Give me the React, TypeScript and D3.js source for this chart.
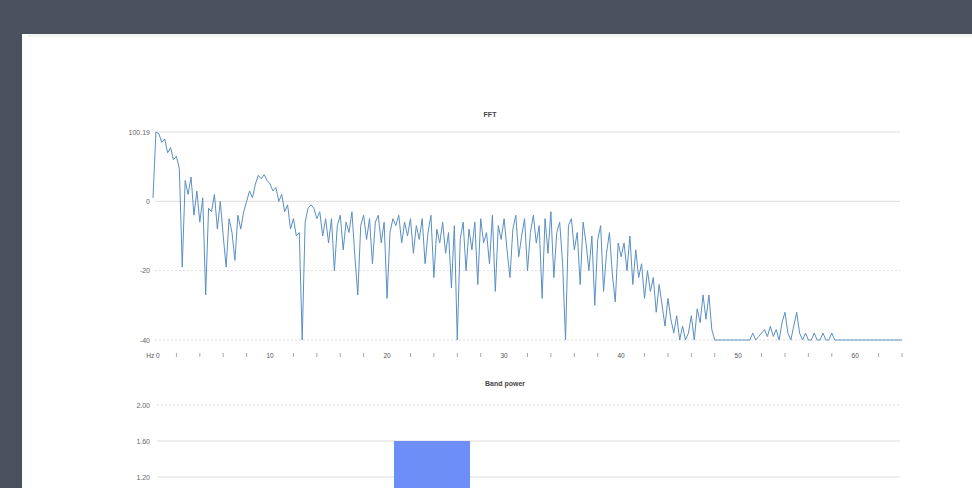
import React from "react";
import * as d3 from "d3";

// FFT spectrum, 0.25 Hz resolution, dB values
const fftFreqStep = 0.25;
const fftValues: number[] = [
  1, 20, 19.5, 17, 18, 14, 15.5, 12, 13, 9.5,
  -19, 6, 2, 7, -4, 3, -6, 1, -27, -2,
  -3, 2, -8, 0, -10, -19, -5, -9, -17, -4,
  -8, -3, 0, 3, 1, 5, 7.5, 6.5, 7.7, 6,
  5, 3, 4, 0, 2, -3, -1, -8, -5, -10,
  -9, -40, -6, -2, -1, -2, -5, -3, -10, -5,
  -12, -5, -20, -7, -4, -14, -6, -9, -3, -16,
  -27, -7, -4, -11, -5, -18, -6, -4, -12, -6,
  -28, -9, -5, -7, -4, -12, -6, -10, -5, -15,
  -7, -11, -5, -18, -9, -4, -22, -8, -12, -6,
  -15, -9, -25, -7, -40, -11, -6, -20, -8, -14,
  -6, -24, -5, -12, -9, -18, -4, -26, -7, -11,
  -5, -14, -22, -8, -4, -16, -10, -5, -20, -9,
  -4, -12, -7, -28, -5, -15, -3, -22, -9, -6,
  -18, -40, -7, -5, -14, -9, -24, -6, -12, -20,
  -10, -30, -11, -7, -26, -15, -9, -21, -29, -12,
  -16, -12, -20, -10, -24, -14, -22, -18, -28, -20,
  -26, -22, -32, -24, -30, -36, -28, -34, -38, -33,
  -40, -36, -40, -38, -33, -40, -31, -35, -27, -34,
  -27, -37, -40, -40, -40, -40, -40, -40, -40, -40,
  -40, -40, -40, -40, -40, -38, -40, -39, -38, -37,
  -39, -36, -39, -37, -40, -35, -32, -38, -40, -36,
  -32, -38, -40, -38, -40, -40, -38, -40, -40, -38,
  -40, -40, -38, -40, -40, -40, -40, -40, -40, -40,
  -40, -40, -40, -40, -40, -40, -40, -40, -40, -40,
  -40, -40, -40, -40, -40, -40, -40,
];
const fftYTicks = [20, 0, -20, -40];
const fftYTickLabels = ["100.19", "0", "-20", "-40"];
const fftXMajorTicks = [0, 10, 20, 30, 40, 50, 60];
const fftXMajorLabels = ["Hz 0", "10", "20", "30", "40", "50", "60"];
const fftXMinorTicks = d3.range(0, 65, 2).filter((v) => v % 10 !== 0);

// Band power
const bandNames = ["delta", "theta", "alpha", "beta"];
const bandValues = [0.95, 1.6, 0.85, 0.7];
const bandYTicks = [2.0, 1.6, 1.2];
const bandYTickLabels = ["2.00", "1.60", "1.20"];

const W = 972;
const H = 488;
const FONT = "'Liberation Sans', Arial, sans-serif";

export default function App() {
  const fx = d3.scaleLinear().domain([0, 64]).range([153, 902]);
  const fy = d3.scaleLinear().domain([-40, 20]).range([340, 132]);
  const line = d3
    .line<number>()
    .x((_, i) => fx(i * fftFreqStep))
    .y((d) => fy(d));

  const bx = d3
    .scaleBand<string>()
    .domain(bandNames)
    .range([157, 900])
    .paddingInner(0.606)
    .paddingOuter(0.228);
  const by = d3.scaleLinear().domain([0, 2]).range([585, 405]);

  return (
    <svg
      width={W}
      height={H}
      style={{ position: "fixed", left: 0, top: 0, display: "block" }}
      fontFamily={FONT}
    >
      <rect x={0} y={0} width={W} height={H} fill="#4a505c" />
      <rect x={22} y={34} width={W - 22} height={H - 34} fill="#ffffff" />
      <rect x={28} y={34} width={W - 28} height={3} fill="#f3f5f3" />

      {/* FFT */}
      <text x={490} y={117} textAnchor="middle" fontSize={7} fontWeight="bold" fill="#444">
        FFT
      </text>
      {fftYTicks.map((t, i) => (
        <g key={"fy" + i}>
          <line
            x1={155}
            x2={900}
            y1={fy(t)}
            y2={fy(t)}
            stroke="#dcdcdc"
            strokeWidth={1}
            strokeDasharray={t < 0 ? "2,2" : undefined}
          />
          <text x={150} y={fy(t) + 2.5} textAnchor="end" fontSize={7} fill="#666">
            {fftYTickLabels[i]}
          </text>
        </g>
      ))}
      <path d={line(fftValues) || ""} fill="none" stroke="#5a8fc2" strokeWidth={1} />
      {fftXMajorTicks.map((t, i) => (
        <text key={"fxm" + i} x={fx(t)} y={358} textAnchor="middle" fontSize={6.5} fill="#555">
          {fftXMajorLabels[i]}
        </text>
      ))}
      {fftXMinorTicks.map((t, i) => (
        <line key={"fxn" + i} x1={fx(t)} x2={fx(t)} y1={353} y2={357} stroke="#aaa" strokeWidth={1} />
      ))}

      {/* Band power */}
      <text x={505} y={386} textAnchor="middle" fontSize={7} fontWeight="bold" fill="#444">
        Band power
      </text>
      {bandYTicks.map((t, i) => (
        <g key={"by" + i}>
          <line
            x1={157}
            x2={900}
            y1={by(t)}
            y2={by(t)}
            stroke="#dcdcdc"
            strokeWidth={1}
            strokeDasharray={i === 0 ? "2,2" : undefined}
          />
          <text x={150} y={by(t) + 2.5} textAnchor="end" fontSize={7} fill="#666">
            {bandYTickLabels[i]}
          </text>
        </g>
      ))}
      {bandNames.map((b, i) => (
        <rect
          key={b}
          x={bx(b)}
          y={by(bandValues[i])}
          width={bx.bandwidth()}
          height={by(0) - by(bandValues[i])}
          fill="#6d8ef6"
        />
      ))}
    </svg>
  );
}
